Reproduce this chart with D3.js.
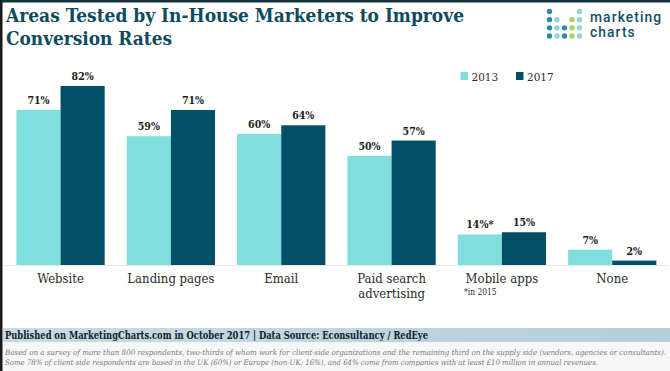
<!DOCTYPE html>
<html><head><meta charset="utf-8">
<script src="https://cdn.jsdelivr.net/npm/d3@7"></script>
<style>html,body{margin:0;padding:0;background:#fff}svg{display:block}</style>
</head><body><svg id="c" width="670" height="371"></svg>
<script>
const categories = ["Website","Landing pages","Email","Paid search advertising","Mobile apps","None"];
const series2013 = [71,59,60,50,14,7];
const series2017 = [82,71,64,57,15,2];
const labels2013 = ["71%","59%","60%","50%","14%*","7%"];
const labels2017 = ["82%","71%","64%","57%","15%","2%"];
const years = ["2013","2017"];
const colors = ["#7fdfdd","#024f66"];
const titleLines = ["Areas Tested by In-House Marketers to Improve","Conversion Rates"];
const sourceText = "Published on MarketingCharts.com in October 2017 | Data Source: Econsultancy / RedEye";
const noteLines = ["Based on a survey of more than 800 respondents, two-thirds of whom work for client-side organizations and the remaining third on the supply side (vendors, agencies or consultants).",
"Some 78% of client-side respondents are based in the UK (60%) or Europe (non-UK; 16%), and 64% come from companies with at least £10 million in annual revenues."];
const logoDots = [[0,0,"#2a8ca5"],[4,0,"#8fd6d0"],[0,1,"#2a8ca5"],[1,1,"#8fd6d0"],[3,1,"#a5d65f"],[4,1,"#8fd6d0"],
[0,2,"#2a8ca5"],[1,2,"#8fd6d0"],[2,2,"#2a8ca5"],[3,2,"#a5d65f"],[4,2,"#8fd6d0"],
[0,3,"#2a8ca5"],[1,3,"#8fd6d0"],[2,3,"#2a8ca5"],[3,3,"#a5d65f"],[4,3,"#8fd6d0"]];

const serif = "'DejaVu Serif Condensed','DejaVu Serif','Liberation Serif',serif";
const svg = d3.select("#c");
const defs = svg.append("defs");
const g = defs.append("linearGradient").attr("id","band");
g.append("stop").attr("offset","0").attr("stop-color","#c9dbe4");
g.append("stop").attr("offset","1").attr("stop-color","#b4cfdc");

svg.append("rect").attr("width",670).attr("height",371).attr("fill","#fff");
svg.append("rect").attr("x",0).attr("y",342).attr("width",670).attr("height",29).attr("fill","#f7f7f7");
svg.append("rect").attr("width",670).attr("height",2.5).attr("fill","#17323c");
svg.append("rect").attr("width",2.5).attr("height",371).attr("fill","#1a1a1a");

svg.selectAll("text.title").data(titleLines).join("text").attr("class","title")
  .attr("x",6).attr("y",(d,i)=>22+i*23)
  .attr("font-family",serif).attr("font-weight",700).attr("font-size",19.4)
  .attr("textLength",(d,i)=>i?166:458).attr("lengthAdjust","spacingAndGlyphs")
  .attr("fill","#0f4a5f").text(d=>d);

const x = d3.scaleBand().domain(categories).range([5.4,667.4]).paddingInner(0.2).paddingOuter(0.1);
const y = d3.scaleLinear().domain([0,82]).range([265,86]);
const sub = d3.scaleBand().domain(years).range([0,x.bandwidth()]);

svg.append("line").attr("x1",3).attr("x2",668).attr("y1",265.5).attr("y2",265.5).attr("stroke","#e4e8e8");

const rows = categories.map((c,i)=>({c,vals:[series2013[i],series2017[i]],labs:[labels2013[i],labels2017[i]]}));
const grp = svg.selectAll("g.cat").data(rows).join("g").attr("class","cat").attr("transform",d=>`translate(${x(d.c)},0)`);
years.forEach((yr,k)=>{
  grp.append("rect").attr("x",sub(yr)).attr("width",sub.bandwidth())
    .attr("y",d=>y(d.vals[k])).attr("height",d=>y(0)-y(d.vals[k])).attr("fill",colors[k]);
  grp.append("text").attr("x",sub(yr)+sub.bandwidth()/2).attr("y",d=>y(d.vals[k])-6)
    .attr("text-anchor","middle").attr("font-family",serif).attr("font-weight",700).attr("font-size",10.5)
    .attr("fill","#1c1c1c").text(d=>d.labs[k]);
});

// category labels
const axisG = svg.append("g").attr("transform","translate(0,265)").call(d3.axisBottom(x).tickSize(0).tickPadding(0));
axisG.select(".domain").remove();
axisG.selectAll(".tick text").each(function(d){
  const t = d3.select(this).text(null).attr("y",0).attr("dy",0)
    .attr("font-family",serif).attr("font-size",13).attr("fill","#2b2b2b");
  const parts = d==="Paid search advertising" ? ["Paid search","advertising"] : [d];
  parts.forEach((p,i)=>t.append("tspan").attr("x",0).attr("y",17.5+i*15.5).text(p));
});
svg.append("text").attr("x",464).attr("y",294.5).attr("font-family",serif).attr("font-size",8.4)
  .attr("fill","#2b2b2b").text("*in 2015");

// legend
const legX = [460.5,516];
years.forEach((yr,k)=>{
  svg.append("rect").attr("x",legX[k]).attr("y",72).attr("width",7.5).attr("height",8).attr("fill",colors[k]);
  svg.append("text").attr("x",legX[k]+11).attr("y",80.5).attr("font-family",serif).attr("font-size",11.6)
    .attr("fill","#2b2b2b").text(yr);
});

// logo
const lx = d3.scaleLinear().domain([0,4]).range([549.5,579.5]);
const ly = d3.scaleLinear().domain([0,3]).range([11.5,36]);
svg.selectAll("circle.logo").data(logoDots).join("circle").attr("class","logo")
  .attr("cx",d=>lx(d[0])).attr("cy",d=>ly(d[1])).attr("r",2.7).attr("fill",d=>d[2]);
svg.selectAll("text.logo").data(["marketing","charts"]).join("text").attr("class","logo")
  .attr("x",590).attr("y",(d,i)=>22+i*15).attr("font-family","Roboto,sans-serif").attr("font-weight",500)
  .attr("font-size",13.8).attr("letter-spacing",1.1).attr("fill","#174f62").text(d=>d);

// footer
svg.append("rect").attr("x",3).attr("y",328).attr("width",667).attr("height",14).attr("fill","url(#band)");
svg.append("text").attr("x",5).attr("y",339).attr("font-family",serif).attr("font-weight",700).attr("font-size",10.2)
  .attr("textLength",423).attr("lengthAdjust","spacingAndGlyphs").attr("fill","#12232b").text(sourceText);
svg.selectAll("text.note").data(noteLines).join("text").attr("class","note")
  .attr("x",5).attr("y",(d,i)=>354.5+i*10).attr("font-family",serif).attr("font-style","italic").attr("font-size",7.6)
  .attr("textLength",(d,i)=>i?593:661).attr("lengthAdjust","spacingAndGlyphs").attr("fill","#7a7a7a").text(d=>d);
</script></body></html>
